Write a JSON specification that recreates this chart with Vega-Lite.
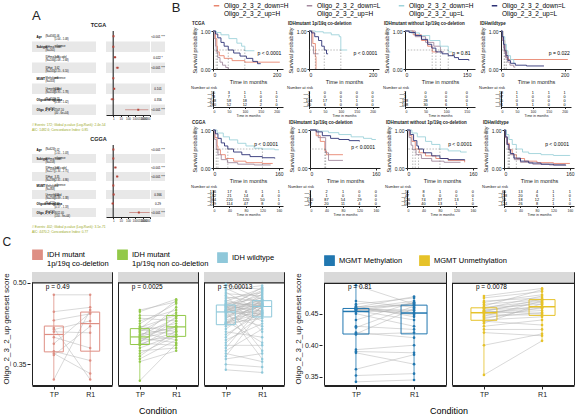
{
"$schema":"https://vega.github.io/schema/vega-lite/v6.json",
"padding":{"left":2,"top":2,"right":2,"bottom":1},
"config":{"font":"Liberation Sans","view":{"stroke":null},
 "axis":{"grid":false,"domainColor":"#222","tickColor":"#222","labelColor":"#222","titleColor":"#222","titleFontWeight":"normal","labelFontSize":5,"titleFontSize":5.5,"tickSize":2,"labelPadding":1,"titlePadding":2},
 "title":{"fontSize":4.5,"fontWeight":"bold","anchor":"start","offset":1,"color":"#222"}},
"resolve":{"scale":{"color":"independent"}},
"columns":1,"align":"none","spacing":2,
"datasets":{
"fa":[
{"c":"T","r":1,"var":"Age","lvl":"(N=656)","est":["1.06","(1.04 - 1.08)"],"hr":1.06,"lo":1.04,"hi":1.08,"pv":"<0.001 ***","sh":0},
{"c":"T","r":2,"var":"Subtype","lvl":["IDHmut-codel","(N=165)"],"est":"reference","hr":1,"pv":"","sh":1},
{"c":"T","r":3,"var":"","lvl":["IDHmut-non-codel","(N=246)"],"est":["1.70","(1.08 - 2.68)"],"hr":1.7,"lo":1.08,"hi":2.68,"pv":"0.022 *","sh":0},
{"c":"T","r":4,"var":"","lvl":["IDHwt","(N=245)"],"est":["3.62","(2.15 - 6.10)"],"hr":3.62,"lo":2.15,"hi":6.1,"pv":"<0.001 ***","sh":1},
{"c":"T","r":5,"var":"MGMT","lvl":["Methylated","(N=503)"],"est":"reference","hr":1,"pv":"","sh":0},
{"c":"T","r":6,"var":"","lvl":["Unmethylated","(N=153)"],"est":["1.30","(0.95 - 1.78)"],"hr":1.3,"lo":0.95,"hi":1.78,"pv":"0.101","sh":1},
{"c":"T","r":7,"var":"Oligodendroglioma","lvl":"(N=656)","est":["0.73","(0.38 - 1.42)"],"hr":0.73,"lo":0.38,"hi":1.42,"pv":"0.356","sh":0},
{"c":"T","r":8,"var":"Oligo_2_3_2","lvl":"(N=656)","est":["2507.10","(40 - 6e+04)"],"hr":2507,"lo":40,"hi":60000,"pv":"<0.001 ***","sh":1},
{"c":"C","r":1,"var":"Age","lvl":"(N=624)","est":["1.02","(1.01 - 1.03)"],"hr":1.02,"lo":1.01,"hi":1.03,"pv":"<0.001 ***","sh":0},
{"c":"C","r":2,"var":"Subtype","lvl":["IDHmut-codel","(N=158)"],"est":"reference","hr":1,"pv":"","sh":1},
{"c":"C","r":3,"var":"","lvl":["IDHmut-non-codel","(N=227)"],"est":["1.92","(1.34 - 2.75)"],"hr":1.92,"lo":1.34,"hi":2.75,"pv":"<0.001 ***","sh":0},
{"c":"C","r":4,"var":"","lvl":["IDHwt","(N=239)"],"est":["3.35","(2.31 - 4.86)"],"hr":3.35,"lo":2.31,"hi":4.86,"pv":"<0.001 ***","sh":1},
{"c":"C","r":5,"var":"MGMT","lvl":["Methylated","(N=368)"],"est":"reference","hr":1,"pv":"","sh":0},
{"c":"C","r":6,"var":"","lvl":["Unmethylated","(N=256)"],"est":["1.11","(0.89 - 1.38)"],"hr":1.11,"lo":0.89,"hi":1.38,"pv":"0.366","sh":1},
{"c":"C","r":7,"var":"Oligodendroglioma","lvl":"(N=624)","est":["0.82","(0.57 - 1.18)"],"hr":0.82,"lo":0.57,"hi":1.18,"pv":"0.29","sh":0},
{"c":"C","r":8,"var":"Oligo_2_3_2","lvl":"(N=624)","est":["3012.40","(150 - 9e+04)"],"hr":3012,"lo":150,"hi":90000,"pv":"<0.001 ***","sh":1}
],
"km":[
{"p":"t1","s":"a","t":0,"v":1},{"p":"t1","s":"a","t":8,"v":0.8},{"p":"t1","s":"a","t":12,"v":0.6},{"p":"t1","s":"a","t":14,"v":0.45},{"p":"t1","s":"a","t":20,"v":0.35},{"p":"t1","s":"a","t":35,"v":0.28},{"p":"t1","s":"a","t":60,"v":0.22},{"p":"t1","s":"a","t":100,"v":0.18},{"p":"t1","s":"a","t":210,"v":0.18},
{"p":"t1","s":"b","t":0,"v":1},{"p":"t1","s":"b","t":4,"v":0.8},{"p":"t1","s":"b","t":8,"v":0.6},{"p":"t1","s":"b","t":10,"v":0.45},{"p":"t1","s":"b","t":15,"v":0.3},{"p":"t1","s":"b","t":22,"v":0.18},{"p":"t1","s":"b","t":30,"v":0.1},{"p":"t1","s":"b","t":40,"v":0.04},{"p":"t1","s":"b","t":48,"v":0},
{"p":"t1","s":"c","t":0,"v":1},{"p":"t1","s":"c","t":10,"v":0.96},{"p":"t1","s":"c","t":25,"v":0.9},{"p":"t1","s":"c","t":50,"v":0.8},{"p":"t1","s":"c","t":75,"v":0.68},{"p":"t1","s":"c","t":90,"v":0.6},{"p":"t1","s":"c","t":100,"v":0.48},{"p":"t1","s":"c","t":130,"v":0.48},
{"p":"t1","s":"d","t":0,"v":1},{"p":"t1","s":"d","t":8,"v":0.92},{"p":"t1","s":"d","t":15,"v":0.82},{"p":"t1","s":"d","t":25,"v":0.7},{"p":"t1","s":"d","t":35,"v":0.6},{"p":"t1","s":"d","t":48,"v":0.5},{"p":"t1","s":"d","t":65,"v":0.42},{"p":"t1","s":"d","t":85,"v":0.34},{"p":"t1","s":"d","t":105,"v":0.28},{"p":"t1","s":"d","t":125,"v":0.2},{"p":"t1","s":"d","t":140,"v":0.14},{"p":"t1","s":"d","t":150,"v":0.14},
{"p":"t2","s":"a","t":0,"v":1},{"p":"t2","s":"a","t":12,"v":0.67},{"p":"t2","s":"a","t":20,"v":0.33},{"p":"t2","s":"a","t":22,"v":0},
{"p":"t2","s":"b","t":0,"v":1},{"p":"t2","s":"b","t":8,"v":0.6},{"p":"t2","s":"b","t":14,"v":0.4},{"p":"t2","s":"b","t":30,"v":0.4},
{"p":"t2","s":"c","t":0,"v":1},{"p":"t2","s":"c","t":20,"v":0.98},{"p":"t2","s":"c","t":45,"v":0.95},{"p":"t2","s":"c","t":70,"v":0.9},{"p":"t2","s":"c","t":95,"v":0.85},{"p":"t2","s":"c","t":100,"v":0.5},{"p":"t2","s":"c","t":120,"v":0.5},
{"p":"t2","s":"d","t":0,"v":1},{"p":"t2","s":"d","t":8,"v":0.95},{"p":"t2","s":"d","t":18,"v":0.85},{"p":"t2","s":"d","t":30,"v":0.75},{"p":"t2","s":"d","t":40,"v":0.6},{"p":"t2","s":"d","t":48,"v":0.5},{"p":"t2","s":"d","t":55,"v":0.4},{"p":"t2","s":"d","t":60,"v":0.4},
{"p":"t3","s":"a","t":0,"v":1},{"p":"t3","s":"a","t":20,"v":0.9},{"p":"t3","s":"a","t":40,"v":0.75},{"p":"t3","s":"a","t":55,"v":0.6},{"p":"t3","s":"a","t":66,"v":0.45},{"p":"t3","s":"a","t":80,"v":0.45},
{"p":"t3","s":"b","t":0,"v":1},{"p":"t3","s":"b","t":25,"v":0.85},{"p":"t3","s":"b","t":50,"v":0.7},{"p":"t3","s":"b","t":70,"v":0.6},{"p":"t3","s":"b","t":86,"v":0.45},{"p":"t3","s":"b","t":95,"v":0.45},
{"p":"t3","s":"c","t":0,"v":1},{"p":"t3","s":"c","t":15,"v":0.95},{"p":"t3","s":"c","t":35,"v":0.88},{"p":"t3","s":"c","t":60,"v":0.75},{"p":"t3","s":"c","t":85,"v":0.6},{"p":"t3","s":"c","t":105,"v":0.45},{"p":"t3","s":"c","t":115,"v":0.45},
{"p":"t3","s":"d","t":0,"v":1},{"p":"t3","s":"d","t":10,"v":0.96},{"p":"t3","s":"d","t":25,"v":0.88},{"p":"t3","s":"d","t":40,"v":0.78},{"p":"t3","s":"d","t":55,"v":0.65},{"p":"t3","s":"d","t":65,"v":0.55},{"p":"t3","s":"d","t":75,"v":0.45},{"p":"t3","s":"d","t":90,"v":0.4},{"p":"t3","s":"d","t":105,"v":0.35},{"p":"t3","s":"d","t":120,"v":0.3},{"p":"t3","s":"d","t":130,"v":0.25},{"p":"t3","s":"d","t":155,"v":0.22},
{"p":"t4","s":"a","t":0,"v":1},{"p":"t4","s":"a","t":6,"v":0.75},{"p":"t4","s":"a","t":12,"v":0.45},{"p":"t4","s":"a","t":18,"v":0.3},{"p":"t4","s":"a","t":22,"v":0.25},{"p":"t4","s":"a","t":210,"v":0.25},
{"p":"t4","s":"b","t":0,"v":1},{"p":"t4","s":"b","t":4,"v":0.75},{"p":"t4","s":"b","t":8,"v":0.55},{"p":"t4","s":"b","t":10,"v":0.45},{"p":"t4","s":"b","t":14,"v":0.3},{"p":"t4","s":"b","t":20,"v":0.18},{"p":"t4","s":"b","t":28,"v":0.1},{"p":"t4","s":"b","t":40,"v":0.05},{"p":"t4","s":"b","t":45,"v":0.05},
{"p":"t4","s":"c","t":0,"v":1},{"p":"t4","s":"c","t":6,"v":0.85},{"p":"t4","s":"c","t":12,"v":0.65},{"p":"t4","s":"c","t":17,"v":0.48},{"p":"t4","s":"c","t":22,"v":0.35},{"p":"t4","s":"c","t":30,"v":0.25},{"p":"t4","s":"c","t":40,"v":0.15},{"p":"t4","s":"c","t":45,"v":0.15},
{"p":"t4","s":"d","t":0,"v":1},{"p":"t4","s":"d","t":4,"v":0.85},{"p":"t4","s":"d","t":8,"v":0.65},{"p":"t4","s":"d","t":12,"v":0.48},{"p":"t4","s":"d","t":16,"v":0.35},{"p":"t4","s":"d","t":22,"v":0.22},{"p":"t4","s":"d","t":30,"v":0.15},{"p":"t4","s":"d","t":45,"v":0.1},{"p":"t4","s":"d","t":80,"v":0.08},{"p":"t4","s":"d","t":135,"v":0.08},
{"p":"c1","s":"a","t":0,"v":1},{"p":"c1","s":"a","t":5,"v":0.8},{"p":"c1","s":"a","t":10,"v":0.58},{"p":"c1","s":"a","t":12,"v":0.48},{"p":"c1","s":"a","t":18,"v":0.35},{"p":"c1","s":"a","t":30,"v":0.25},{"p":"c1","s":"a","t":50,"v":0.18},{"p":"c1","s":"a","t":80,"v":0.14},{"p":"c1","s":"a","t":120,"v":0.12},{"p":"c1","s":"a","t":145,"v":0.12},
{"p":"c1","s":"b","t":0,"v":1},{"p":"c1","s":"b","t":4,"v":0.75},{"p":"c1","s":"b","t":8,"v":0.48},{"p":"c1","s":"b","t":12,"v":0.35},{"p":"c1","s":"b","t":20,"v":0.22},{"p":"c1","s":"b","t":35,"v":0.14},{"p":"c1","s":"b","t":60,"v":0.1},{"p":"c1","s":"b","t":100,"v":0.08},{"p":"c1","s":"b","t":140,"v":0.08},
{"p":"c1","s":"c","t":0,"v":1},{"p":"c1","s":"c","t":10,"v":0.92},{"p":"c1","s":"c","t":25,"v":0.82},{"p":"c1","s":"c","t":40,"v":0.74},{"p":"c1","s":"c","t":60,"v":0.65},{"p":"c1","s":"c","t":80,"v":0.58},{"p":"c1","s":"c","t":100,"v":0.52},{"p":"c1","s":"c","t":120,"v":0.5},{"p":"c1","s":"c","t":150,"v":0.48},{"p":"c1","s":"c","t":160,"v":0.48},
{"p":"c1","s":"d","t":0,"v":1},{"p":"c1","s":"d","t":6,"v":0.9},{"p":"c1","s":"d","t":12,"v":0.78},{"p":"c1","s":"d","t":20,"v":0.66},{"p":"c1","s":"d","t":28,"v":0.58},{"p":"c1","s":"d","t":36,"v":0.5},{"p":"c1","s":"d","t":50,"v":0.42},{"p":"c1","s":"d","t":70,"v":0.35},{"p":"c1","s":"d","t":90,"v":0.3},{"p":"c1","s":"d","t":120,"v":0.27},{"p":"c1","s":"d","t":150,"v":0.25},
{"p":"c2","s":"a","t":0,"v":1},{"p":"c2","s":"a","t":15,"v":0.85},{"p":"c2","s":"a","t":25,"v":0.7},{"p":"c2","s":"a","t":36,"v":0.45},{"p":"c2","s":"a","t":40,"v":0.35},{"p":"c2","s":"a","t":80,"v":0.35},
{"p":"c2","s":"b","t":0,"v":1},{"p":"c2","s":"b","t":20,"v":0.8},{"p":"c2","s":"b","t":38,"v":0.4},{"p":"c2","s":"b","t":45,"v":0.2},{"p":"c2","s":"b","t":80,"v":0.2},
{"p":"c2","s":"c","t":0,"v":1},{"p":"c2","s":"c","t":20,"v":0.97},{"p":"c2","s":"c","t":45,"v":0.93},{"p":"c2","s":"c","t":70,"v":0.88},{"p":"c2","s":"c","t":100,"v":0.82},{"p":"c2","s":"c","t":130,"v":0.78},{"p":"c2","s":"c","t":150,"v":0.75},{"p":"c2","s":"c","t":160,"v":0.75},
{"p":"c2","s":"d","t":0,"v":1},{"p":"c2","s":"d","t":15,"v":0.95},{"p":"c2","s":"d","t":30,"v":0.85},{"p":"c2","s":"d","t":50,"v":0.78},{"p":"c2","s":"d","t":70,"v":0.75},{"p":"c2","s":"d","t":95,"v":0.72},{"p":"c2","s":"d","t":120,"v":0.7},
{"p":"c3","s":"a","t":0,"v":1},{"p":"c3","s":"a","t":6,"v":0.85},{"p":"c3","s":"a","t":12,"v":0.7},{"p":"c3","s":"a","t":20,"v":0.5},{"p":"c3","s":"a","t":30,"v":0.4},{"p":"c3","s":"a","t":45,"v":0.32},{"p":"c3","s":"a","t":70,"v":0.25},{"p":"c3","s":"a","t":100,"v":0.2},{"p":"c3","s":"a","t":140,"v":0.15},
{"p":"c3","s":"b","t":0,"v":1},{"p":"c3","s":"b","t":5,"v":0.8},{"p":"c3","s":"b","t":10,"v":0.6},{"p":"c3","s":"b","t":14,"v":0.48},{"p":"c3","s":"b","t":22,"v":0.35},{"p":"c3","s":"b","t":35,"v":0.25},{"p":"c3","s":"b","t":60,"v":0.18},{"p":"c3","s":"b","t":90,"v":0.15},{"p":"c3","s":"b","t":130,"v":0.15},
{"p":"c3","s":"c","t":0,"v":1},{"p":"c3","s":"c","t":12,"v":0.92},{"p":"c3","s":"c","t":25,"v":0.82},{"p":"c3","s":"c","t":45,"v":0.7},{"p":"c3","s":"c","t":60,"v":0.62},{"p":"c3","s":"c","t":80,"v":0.5},{"p":"c3","s":"c","t":100,"v":0.45},{"p":"c3","s":"c","t":130,"v":0.42},{"p":"c3","s":"c","t":145,"v":0.42},
{"p":"c3","s":"d","t":0,"v":1},{"p":"c3","s":"d","t":8,"v":0.88},{"p":"c3","s":"d","t":16,"v":0.72},{"p":"c3","s":"d","t":24,"v":0.58},{"p":"c3","s":"d","t":28,"v":0.5},{"p":"c3","s":"d","t":40,"v":0.4},{"p":"c3","s":"d","t":60,"v":0.32},{"p":"c3","s":"d","t":80,"v":0.25},{"p":"c3","s":"d","t":100,"v":0.22},{"p":"c3","s":"d","t":140,"v":0.2},
{"p":"c4","s":"a","t":0,"v":1},{"p":"c4","s":"a","t":4,"v":0.8},{"p":"c4","s":"a","t":8,"v":0.65},{"p":"c4","s":"a","t":13,"v":0.48},{"p":"c4","s":"a","t":20,"v":0.35},{"p":"c4","s":"a","t":30,"v":0.25},{"p":"c4","s":"a","t":50,"v":0.18},{"p":"c4","s":"a","t":80,"v":0.14},{"p":"c4","s":"a","t":120,"v":0.12},{"p":"c4","s":"a","t":160,"v":0.12},
{"p":"c4","s":"b","t":0,"v":1},{"p":"c4","s":"b","t":3,"v":0.8},{"p":"c4","s":"b","t":6,"v":0.62},{"p":"c4","s":"b","t":10,"v":0.48},{"p":"c4","s":"b","t":15,"v":0.35},{"p":"c4","s":"b","t":25,"v":0.22},{"p":"c4","s":"b","t":40,"v":0.15},{"p":"c4","s":"b","t":70,"v":0.1},{"p":"c4","s":"b","t":110,"v":0.08},{"p":"c4","s":"b","t":150,"v":0.08},
{"p":"c4","s":"c","t":0,"v":1},{"p":"c4","s":"c","t":6,"v":0.88},{"p":"c4","s":"c","t":12,"v":0.75},{"p":"c4","s":"c","t":20,"v":0.62},{"p":"c4","s":"c","t":30,"v":0.5},{"p":"c4","s":"c","t":45,"v":0.42},{"p":"c4","s":"c","t":60,"v":0.38},{"p":"c4","s":"c","t":90,"v":0.35},{"p":"c4","s":"c","t":120,"v":0.33},{"p":"c4","s":"c","t":160,"v":0.32},
{"p":"c4","s":"d","t":0,"v":1},{"p":"c4","s":"d","t":4,"v":0.82},{"p":"c4","s":"d","t":8,"v":0.62},{"p":"c4","s":"d","t":12,"v":0.48},{"p":"c4","s":"d","t":16,"v":0.38},{"p":"c4","s":"d","t":24,"v":0.26},{"p":"c4","s":"d","t":40,"v":0.18},{"p":"c4","s":"d","t":60,"v":0.13},{"p":"c4","s":"d","t":90,"v":0.1},{"p":"c4","s":"d","t":120,"v":0.08},{"p":"c4","s":"d","t":150,"v":0.07}
],
"risk":[
{"p":"t1","s":"a","t":0,"n":55},{"p":"t1","s":"a","t":50,"n":3},{"p":"t1","s":"a","t":100,"n":1},{"p":"t1","s":"a","t":150,"n":1},{"p":"t1","s":"a","t":200,"n":1},
{"p":"t1","s":"b","t":0,"n":73},{"p":"t1","s":"b","t":50,"n":7},{"p":"t1","s":"b","t":100,"n":1},{"p":"t1","s":"b","t":150,"n":0},{"p":"t1","s":"b","t":200,"n":0},
{"p":"t1","s":"c","t":0,"n":248},{"p":"t1","s":"c","t":50,"n":58},{"p":"t1","s":"c","t":100,"n":18},{"p":"t1","s":"c","t":150,"n":4},{"p":"t1","s":"c","t":200,"n":1},
{"p":"t1","s":"d","t":0,"n":280},{"p":"t1","s":"d","t":50,"n":52},{"p":"t1","s":"d","t":100,"n":12},{"p":"t1","s":"d","t":150,"n":2},{"p":"t1","s":"d","t":200,"n":0},
{"p":"t2","s":"a","t":0,"n":3},{"p":"t2","s":"a","t":50,"n":0},{"p":"t2","s":"a","t":100,"n":0},{"p":"t2","s":"a","t":150,"n":0},{"p":"t2","s":"a","t":200,"n":0},
{"p":"t2","s":"b","t":0,"n":5},{"p":"t2","s":"b","t":50,"n":0},{"p":"t2","s":"b","t":100,"n":0},{"p":"t2","s":"b","t":150,"n":0},{"p":"t2","s":"b","t":200,"n":0},
{"p":"t2","s":"c","t":0,"n":104},{"p":"t2","s":"c","t":50,"n":17},{"p":"t2","s":"c","t":100,"n":5},{"p":"t2","s":"c","t":150,"n":1},{"p":"t2","s":"c","t":200,"n":0},
{"p":"t2","s":"d","t":0,"n":40},{"p":"t2","s":"d","t":50,"n":6},{"p":"t2","s":"d","t":100,"n":0},{"p":"t2","s":"d","t":150,"n":0},{"p":"t2","s":"d","t":200,"n":0},
{"p":"t3","s":"a","t":0,"n":2},{"p":"t3","s":"a","t":50,"n":0},{"p":"t3","s":"a","t":100,"n":0},{"p":"t3","s":"a","t":150,"n":0},
{"p":"t3","s":"b","t":0,"n":3},{"p":"t3","s":"b","t":50,"n":0},{"p":"t3","s":"b","t":100,"n":0},{"p":"t3","s":"b","t":150,"n":0},
{"p":"t3","s":"c","t":0,"n":118},{"p":"t3","s":"c","t":50,"n":28},{"p":"t3","s":"c","t":100,"n":6},{"p":"t3","s":"c","t":150,"n":0},
{"p":"t3","s":"d","t":0,"n":108},{"p":"t3","s":"d","t":50,"n":30},{"p":"t3","s":"d","t":100,"n":6},{"p":"t3","s":"d","t":150,"n":1},
{"p":"t4","s":"a","t":0,"n":18},{"p":"t4","s":"a","t":50,"n":1},{"p":"t4","s":"a","t":100,"n":1},{"p":"t4","s":"a","t":150,"n":1},{"p":"t4","s":"a","t":200,"n":1},
{"p":"t4","s":"b","t":0,"n":97},{"p":"t4","s":"b","t":50,"n":1},{"p":"t4","s":"b","t":100,"n":0},{"p":"t4","s":"b","t":150,"n":0},{"p":"t4","s":"b","t":200,"n":0},
{"p":"t4","s":"c","t":0,"n":15},{"p":"t4","s":"c","t":50,"n":0},{"p":"t4","s":"c","t":100,"n":0},{"p":"t4","s":"c","t":150,"n":0},{"p":"t4","s":"c","t":200,"n":0},
{"p":"t4","s":"d","t":0,"n":91},{"p":"t4","s":"d","t":50,"n":3},{"p":"t4","s":"d","t":100,"n":1},{"p":"t4","s":"d","t":150,"n":0},{"p":"t4","s":"d","t":200,"n":0},
{"p":"c1","s":"a","t":0,"n":136},{"p":"c1","s":"a","t":40,"n":17},{"p":"c1","s":"a","t":80,"n":6},{"p":"c1","s":"a","t":120,"n":1},{"p":"c1","s":"a","t":160,"n":1},
{"p":"c1","s":"b","t":0,"n":182},{"p":"c1","s":"b","t":40,"n":21},{"p":"c1","s":"b","t":80,"n":14},{"p":"c1","s":"b","t":120,"n":4},{"p":"c1","s":"b","t":160,"n":0},
{"p":"c1","s":"c","t":0,"n":364},{"p":"c1","s":"c","t":40,"n":220},{"p":"c1","s":"c","t":80,"n":120},{"p":"c1","s":"c","t":120,"n":50},{"p":"c1","s":"c","t":160,"n":1},
{"p":"c1","s":"d","t":0,"n":219},{"p":"c1","s":"d","t":40,"n":114},{"p":"c1","s":"d","t":80,"n":47},{"p":"c1","s":"d","t":120,"n":8},{"p":"c1","s":"d","t":160,"n":0},
{"p":"c2","s":"a","t":0,"n":7},{"p":"c2","s":"a","t":40,"n":2},{"p":"c2","s":"a","t":80,"n":1},{"p":"c2","s":"a","t":120,"n":0},{"p":"c2","s":"a","t":160,"n":0},
{"p":"c2","s":"b","t":0,"n":5},{"p":"c2","s":"b","t":40,"n":1},{"p":"c2","s":"b","t":80,"n":0},{"p":"c2","s":"b","t":120,"n":0},{"p":"c2","s":"b","t":160,"n":0},
{"p":"c2","s":"c","t":0,"n":150},{"p":"c2","s":"c","t":40,"n":87},{"p":"c2","s":"c","t":80,"n":54},{"p":"c2","s":"c","t":120,"n":29},{"p":"c2","s":"c","t":160,"n":0},
{"p":"c2","s":"d","t":0,"n":27},{"p":"c2","s":"d","t":40,"n":20},{"p":"c2","s":"d","t":80,"n":11},{"p":"c2","s":"d","t":120,"n":4},{"p":"c2","s":"d","t":160,"n":0},
{"p":"c3","s":"a","t":0,"n":51},{"p":"c3","s":"a","t":40,"n":8},{"p":"c3","s":"a","t":80,"n":1},{"p":"c3","s":"a","t":120,"n":0},{"p":"c3","s":"a","t":160,"n":0},
{"p":"c3","s":"b","t":0,"n":47},{"p":"c3","s":"b","t":40,"n":6},{"p":"c3","s":"b","t":80,"n":0},{"p":"c3","s":"b","t":120,"n":0},{"p":"c3","s":"b","t":160,"n":0},
{"p":"c3","s":"c","t":0,"n":126},{"p":"c3","s":"c","t":40,"n":74},{"p":"c3","s":"c","t":80,"n":37},{"p":"c3","s":"c","t":120,"n":13},{"p":"c3","s":"c","t":160,"n":1},
{"p":"c3","s":"d","t":0,"n":109},{"p":"c3","s":"d","t":40,"n":40},{"p":"c3","s":"d","t":80,"n":13},{"p":"c3","s":"d","t":120,"n":1},{"p":"c3","s":"d","t":160,"n":0},
{"p":"c4","s":"a","t":0,"n":65},{"p":"c4","s":"a","t":40,"n":13},{"p":"c4","s":"a","t":80,"n":4},{"p":"c4","s":"a","t":120,"n":1},{"p":"c4","s":"a","t":160,"n":1},
{"p":"c4","s":"b","t":0,"n":118},{"p":"c4","s":"b","t":40,"n":20},{"p":"c4","s":"b","t":80,"n":6},{"p":"c4","s":"b","t":120,"n":1},{"p":"c4","s":"b","t":160,"n":0},
{"p":"c4","s":"c","t":0,"n":56},{"p":"c4","s":"c","t":40,"n":18},{"p":"c4","s":"c","t":80,"n":12},{"p":"c4","s":"c","t":120,"n":2},{"p":"c4","s":"c","t":160,"n":1},
{"p":"c4","s":"d","t":0,"n":124},{"p":"c4","s":"d","t":40,"n":26},{"p":"c4","s":"d","t":80,"n":8},{"p":"c4","s":"d","t":120,"n":1},{"p":"c4","s":"d","t":160,"n":0}
],
"med":[
{"p":"t1","m":14},{"p":"t1","m":10},{"p":"t1","m":100},{"p":"t1","m":48},
{"p":"t2","m":20},{"p":"t2","m":100},{"p":"t2","m":48},
{"p":"t3","m":66},{"p":"t3","m":86},{"p":"t3","m":105},{"p":"t3","m":75},
{"p":"t4","m":12},{"p":"t4","m":10},{"p":"t4","m":17},
{"p":"c1","m":12},{"p":"c1","m":8},{"p":"c1","m":120},{"p":"c1","m":36},
{"p":"c2","m":36},{"p":"c2","m":38},
{"p":"c3","m":20},{"p":"c3","m":14},{"p":"c3","m":80},{"p":"c3","m":28},
{"p":"c4","m":13},{"p":"c4","m":10},{"p":"c4","m":30},{"p":"c4","m":12}
],
"pv":[
{"p":"t1","txt":"p < 0.0001"},{"p":"t2","txt":"p < 0.0001"},{"p":"t3","txt":"p = 0.81"},{"p":"t4","txt":"p = 0.022"},
{"p":"c1","txt":"p < 0.0001"},{"p":"c2","txt":"p < 0.0001"},{"p":"c3","txt":"p < 0.0001"},{"p":"c4","txt":"p < 0.0001"}
],
"cl":[
{"g":"co","p":"p = 0.49"},{"g":"nc","p":"p = 0.0025"},{"g":"wt","p":"p = 0.00013"},
{"g":"co","i":1,"TP":0.478,"R1":0.478},{"g":"co","i":2,"TP":0.447,"R1":0.455},{"g":"co","i":3,"TP":0.431,"R1":0.443},{"g":"co","i":4,"TP":0.417,"R1":0.322},{"g":"co","i":5,"TP":0.414,"R1":0.43},{"g":"co","i":6,"TP":0.41,"R1":0.408},{"g":"co","i":7,"TP":0.4,"R1":0.38},{"g":"co","i":8,"TP":0.388,"R1":0.445},{"g":"co","i":9,"TP":0.374,"R1":0.357},{"g":"co","i":10,"TP":0.37,"R1":0.333},{"g":"co","i":11,"TP":0.367,"R1":0.42},{"g":"co","i":12,"TP":0.322,"R1":0.45},
{"g":"nc","i":1,"TP":0.45,"R1":0.465},{"g":"nc","i":2,"TP":0.447,"R1":0.47},{"g":"nc","i":3,"TP":0.44,"R1":0.44},{"g":"nc","i":4,"TP":0.435,"R1":0.43},{"g":"nc","i":5,"TP":0.43,"R1":0.45},{"g":"nc","i":6,"TP":0.425,"R1":0.462},{"g":"nc","i":7,"TP":0.42,"R1":0.41},{"g":"nc","i":8,"TP":0.418,"R1":0.44},{"g":"nc","i":9,"TP":0.415,"R1":0.468},{"g":"nc","i":10,"TP":0.414,"R1":0.405},{"g":"nc","i":11,"TP":0.412,"R1":0.425},{"g":"nc","i":12,"TP":0.41,"R1":0.445},{"g":"nc","i":13,"TP":0.408,"R1":0.395},{"g":"nc","i":14,"TP":0.405,"R1":0.418},{"g":"nc","i":15,"TP":0.403,"R1":0.435},{"g":"nc","i":16,"TP":0.401,"R1":0.42},{"g":"nc","i":17,"TP":0.4,"R1":0.455},{"g":"nc","i":18,"TP":0.398,"R1":0.39},{"g":"nc","i":19,"TP":0.396,"R1":0.415},{"g":"nc","i":20,"TP":0.394,"R1":0.4},{"g":"nc","i":21,"TP":0.392,"R1":0.43},{"g":"nc","i":22,"TP":0.39,"R1":0.438},{"g":"nc","i":23,"TP":0.389,"R1":0.385},{"g":"nc","i":24,"TP":0.387,"R1":0.41},{"g":"nc","i":25,"TP":0.385,"R1":0.42},{"g":"nc","i":26,"TP":0.38,"R1":0.405},{"g":"nc","i":27,"TP":0.375,"R1":0.38},{"g":"nc","i":28,"TP":0.37,"R1":0.402},{"g":"nc","i":29,"TP":0.365,"R1":0.412},{"g":"nc","i":30,"TP":0.36,"R1":0.395},{"g":"nc","i":31,"TP":0.355,"R1":0.375},{"g":"nc","i":32,"TP":0.32,"R1":0.388},
{"g":"wt","i":1,"TP":0.498,"R1":0.47},{"g":"wt","i":2,"TP":0.495,"R1":0.488},{"g":"wt","i":3,"TP":0.49,"R1":0.46},{"g":"wt","i":4,"TP":0.487,"R1":0.495},{"g":"wt","i":5,"TP":0.483,"R1":0.445},{"g":"wt","i":6,"TP":0.48,"R1":0.476},{"g":"wt","i":7,"TP":0.477,"R1":0.41},{"g":"wt","i":8,"TP":0.474,"R1":0.465},{"g":"wt","i":9,"TP":0.471,"R1":0.482},{"g":"wt","i":10,"TP":0.468,"R1":0.452},
{"g":"wt","i":11,"TP":0.466,"R1":0.49},{"g":"wt","i":12,"TP":0.464,"R1":0.458},{"g":"wt","i":13,"TP":0.462,"R1":0.44},{"g":"wt","i":14,"TP":0.461,"R1":0.472},{"g":"wt","i":15,"TP":0.46,"R1":0.375},{"g":"wt","i":16,"TP":0.459,"R1":0.486},{"g":"wt","i":17,"TP":0.458,"R1":0.462},{"g":"wt","i":18,"TP":0.457,"R1":0.448},{"g":"wt","i":19,"TP":0.456,"R1":0.478},{"g":"wt","i":20,"TP":0.455,"R1":0.43},
{"g":"wt","i":21,"TP":0.454,"R1":0.467},{"g":"wt","i":22,"TP":0.453,"R1":0.459},{"g":"wt","i":23,"TP":0.452,"R1":0.492},{"g":"wt","i":24,"TP":0.451,"R1":0.442},{"g":"wt","i":25,"TP":0.45,"R1":0.464},{"g":"wt","i":26,"TP":0.449,"R1":0.36},{"g":"wt","i":27,"TP":0.449,"R1":0.469},{"g":"wt","i":28,"TP":0.448,"R1":0.456},{"g":"wt","i":29,"TP":0.448,"R1":0.484},{"g":"wt","i":30,"TP":0.447,"R1":0.438},
{"g":"wt","i":31,"TP":0.446,"R1":0.461},{"g":"wt","i":32,"TP":0.444,"R1":0.474},{"g":"wt","i":33,"TP":0.442,"R1":0.449},{"g":"wt","i":34,"TP":0.44,"R1":0.42},{"g":"wt","i":35,"TP":0.438,"R1":0.466},{"g":"wt","i":36,"TP":0.436,"R1":0.458},{"g":"wt","i":37,"TP":0.434,"R1":0.48},{"g":"wt","i":38,"TP":0.432,"R1":0.447},{"g":"wt","i":39,"TP":0.43,"R1":0.39},{"g":"wt","i":40,"TP":0.428,"R1":0.463},
{"g":"wt","i":41,"TP":0.427,"R1":0.444},{"g":"wt","i":42,"TP":0.426,"R1":0.46},{"g":"wt","i":43,"TP":0.425,"R1":0.468},{"g":"wt","i":44,"TP":0.425,"R1":0.435},{"g":"wt","i":45,"TP":0.424,"R1":0.454},{"g":"wt","i":46,"TP":0.42,"R1":0.443},{"g":"wt","i":47,"TP":0.415,"R1":0.462},{"g":"wt","i":48,"TP":0.41,"R1":0.4},{"g":"wt","i":49,"TP":0.405,"R1":0.446},{"g":"wt","i":50,"TP":0.4,"R1":0.457},
{"g":"wt","i":51,"TP":0.395,"R1":0.425},{"g":"wt","i":52,"TP":0.39,"R1":0.441},{"g":"wt","i":53,"TP":0.385,"R1":0.385},{"g":"wt","i":54,"TP":0.38,"R1":0.459},{"g":"wt","i":55,"TP":0.375,"R1":0.415},{"g":"wt","i":56,"TP":0.37,"R1":0.355},{"g":"wt","i":57,"TP":0.365,"R1":0.45},{"g":"wt","i":58,"TP":0.36,"R1":0.37},{"g":"wt","i":59,"TP":0.35,"R1":0.345},{"g":"wt","i":60,"TP":0.34,"R1":0.335}
],
"cr":[
{"g":"me","p":"p = 0.81"},{"g":"un","p":"p = 0.0078"},
{"g":"me","i":1,"TP":0.495,"R1":0.465},{"g":"me","i":2,"TP":0.47,"R1":0.46},{"g":"me","i":3,"TP":0.465,"R1":0.475},{"g":"me","i":4,"TP":0.462,"R1":0.445},{"g":"me","i":5,"TP":0.461,"R1":0.463},{"g":"me","i":6,"TP":0.46,"R1":0.477},{"g":"me","i":7,"TP":0.459,"R1":0.452},{"g":"me","i":8,"TP":0.458,"R1":0.47},{"g":"me","i":9,"TP":0.458,"R1":0.448},{"g":"me","i":10,"TP":0.457,"R1":0.45},{"g":"me","i":11,"TP":0.457,"R1":0.456},{"g":"me","i":12,"TP":0.456,"R1":0.467},{"g":"me","i":13,"TP":0.455,"R1":0.44},{"g":"me","i":14,"TP":0.454,"R1":0.466},
{"g":"me","i":15,"TP":0.453,"R1":0.455},{"g":"me","i":16,"TP":0.45,"R1":0.43},{"g":"me","i":17,"TP":0.44,"R1":0.468},{"g":"me","i":18,"TP":0.43,"R1":0.425},{"g":"me","i":19,"TP":0.428,"R1":0.462},{"g":"me","i":20,"TP":0.42,"R1":0.412},{"g":"me","i":21,"TP":0.418,"R1":0.458},{"g":"me","i":22,"TP":0.417,"R1":0.42},{"g":"me","i":23,"TP":0.393,"R1":0.4},{"g":"me","i":24,"TP":0.39,"R1":0.388},{"g":"me","i":25,"TP":0.388,"R1":0.37},{"g":"me","i":26,"TP":0.362,"R1":0.385},{"g":"me","i":27,"TP":0.352,"R1":0.355},{"g":"me","i":28,"TP":0.342,"R1":0.345},
{"g":"un","i":1,"TP":0.478,"R1":0.49},{"g":"un","i":2,"TP":0.475,"R1":0.485},{"g":"un","i":3,"TP":0.47,"R1":0.475},{"g":"un","i":4,"TP":0.468,"R1":0.48},{"g":"un","i":5,"TP":0.465,"R1":0.472},{"g":"un","i":6,"TP":0.462,"R1":0.488},{"g":"un","i":7,"TP":0.46,"R1":0.47},{"g":"un","i":8,"TP":0.459,"R1":0.465},{"g":"un","i":9,"TP":0.458,"R1":0.478},{"g":"un","i":10,"TP":0.456,"R1":0.46},{"g":"un","i":11,"TP":0.455,"R1":0.468},{"g":"un","i":12,"TP":0.454,"R1":0.45},{"g":"un","i":13,"TP":0.453,"R1":0.473},{"g":"un","i":14,"TP":0.452,"R1":0.458},
{"g":"un","i":15,"TP":0.451,"R1":0.462},{"g":"un","i":16,"TP":0.45,"R1":0.455},{"g":"un","i":17,"TP":0.448,"R1":0.448},{"g":"un","i":18,"TP":0.446,"R1":0.47},{"g":"un","i":19,"TP":0.444,"R1":0.452},{"g":"un","i":20,"TP":0.442,"R1":0.46},{"g":"un","i":21,"TP":0.44,"R1":0.445},{"g":"un","i":22,"TP":0.438,"R1":0.432},{"g":"un","i":23,"TP":0.435,"R1":0.466},{"g":"un","i":24,"TP":0.43,"R1":0.44},{"g":"un","i":25,"TP":0.425,"R1":0.425},{"g":"un","i":26,"TP":0.42,"R1":0.415},{"g":"un","i":27,"TP":0.4,"R1":0.418},{"g":"un","i":28,"TP":0.353,"R1":0.407}
]
},
"concat":[
{"concat":[
 {"title":{"text":"A","anchor":"start","fontSize":13,"fontWeight":"normal","offset":0},"spacing":5,"vconcat":[
  {"title":{"text":"TCGA","fontSize":5.5,"fontWeight":"bold","anchor":"middle","offset":2},"spacing":0,"hconcat":[
   {"width":64,"height":84,"data":{"name":"fa"},"transform":[{"filter":"datum.c=='T'"}],
    "title":{"text":["# Events: 172; Global p-value (Log-Rank): 2.4e-54","AIC: 1482.6; Concordance Index: 0.85"],"orient":"bottom","anchor":"start","fontSize":3.3,"fontWeight":"normal","color":"#9AA81E","offset":8},
    "layer":[
     {"transform":[{"filter":"datum.sh==1"}],"mark":{"type":"rect","color":"#e8e8e8"},"encoding":{"y":{"field":"r","type":"ordinal","axis":null,"scale":{"domain":[1,2,3,4,5,6,7,8]}}}},
     {"transform":[{"fold":["var","lvl","est"],"as":["col","txt"]},{"filter":"datum.col=='var'"}],"mark":{"type":"text","align":"left","fontSize":2.8,"fontWeight":"bold"},"encoding":{"x":{"field":"col","type":"nominal","axis":null,"scale":{"domain":["var","lvl","est"],"range":[0,27,46]}},"y":{"field":"r","type":"ordinal","axis":null},"text":{"field":"txt"}}},
     {"transform":[{"fold":["var","lvl","est"],"as":["col","txt"]},{"filter":"datum.col!='var'"}],"mark":{"type":"text","align":"left","fontSize":2.6,"lineHeight":3},"encoding":{"x":{"field":"col","type":"nominal","axis":null,"scale":{"domain":["var","lvl","est"],"range":[0,27,46]}},"y":{"field":"r","type":"ordinal","axis":null},"text":{"field":"txt"}}}
    ]},
   {"width":44,"height":84,"data":{"name":"fa"},"transform":[{"filter":"datum.c=='T'"}],
    "layer":[
     {"transform":[{"filter":"datum.sh==1"}],"mark":{"type":"rect","color":"#e8e8e8"},"encoding":{"y":{"field":"r","type":"ordinal","axis":null,"scale":{"domain":[1,2,3,4,5,6,7,8]}}}},
     {"mark":{"type":"rule","color":"#555","strokeWidth":0.4},"encoding":{"x":{"datum":1,"type":"quantitative","scale":{"type":"log","domain":[0.2,100000]}}}},
     {"transform":[{"filter":"isValid(datum.lo)"}],"mark":{"type":"rule","color":"#B5453A","strokeWidth":0.5},"encoding":{"x":{"field":"lo","type":"quantitative","title":null,"scale":{"type":"log","domain":[0.2,100000]},"axis":{"values":[1,10,100,1000,10000,100000],"format":"d","labelFontSize":3,"tickSize":1.5,"labelOverlap":false}},"x2":{"field":"hi"},"y":{"field":"r","type":"ordinal","axis":null}}},
     {"transform":[{"filter":"isValid(datum.hr)"}],"mark":{"type":"square","filled":true,"size":4,"opacity":1,"color":"#B5453A"},"encoding":{"x":{"field":"hr","type":"quantitative","title":null},"y":{"field":"r","type":"ordinal","axis":null}}}
    ]},
   {"width":14,"height":84,"data":{"name":"fa"},"transform":[{"filter":"datum.c=='T'"}],
    "layer":[
     {"transform":[{"filter":"datum.sh==1"}],"mark":{"type":"rect","color":"#e8e8e8"},"encoding":{"y":{"field":"r","type":"ordinal","axis":null,"scale":{"domain":[1,2,3,4,5,6,7,8]}}}},
     {"mark":{"type":"text","fontSize":3},"encoding":{"y":{"field":"r","type":"ordinal","axis":null},"text":{"field":"pv"}}}
    ]}
  ]},
  {"title":{"text":"CGGA","fontSize":5.5,"fontWeight":"bold","anchor":"middle","offset":2},"spacing":0,"hconcat":[
   {"width":64,"height":72,"data":{"name":"fa"},"transform":[{"filter":"datum.c=='C'"}],
    "title":{"text":["# Events: 402; Global p-value (Log-Rank): 3.1e-71","AIC: 4470.2; Concordance Index: 0.77"],"orient":"bottom","anchor":"start","fontSize":3.3,"fontWeight":"normal","color":"#9AA81E","offset":8},
    "layer":[
     {"transform":[{"filter":"datum.sh==1"}],"mark":{"type":"rect","color":"#e8e8e8"},"encoding":{"y":{"field":"r","type":"ordinal","axis":null,"scale":{"domain":[1,2,3,4,5,6,7,8]}}}},
     {"transform":[{"fold":["var","lvl","est"],"as":["col","txt"]},{"filter":"datum.col=='var'"}],"mark":{"type":"text","align":"left","fontSize":2.8,"fontWeight":"bold"},"encoding":{"x":{"field":"col","type":"nominal","axis":null,"scale":{"domain":["var","lvl","est"],"range":[0,27,46]}},"y":{"field":"r","type":"ordinal","axis":null},"text":{"field":"txt"}}},
     {"transform":[{"fold":["var","lvl","est"],"as":["col","txt"]},{"filter":"datum.col!='var'"}],"mark":{"type":"text","align":"left","fontSize":2.6,"lineHeight":3},"encoding":{"x":{"field":"col","type":"nominal","axis":null,"scale":{"domain":["var","lvl","est"],"range":[0,27,46]}},"y":{"field":"r","type":"ordinal","axis":null},"text":{"field":"txt"}}}
    ]},
   {"width":44,"height":72,"data":{"name":"fa"},"transform":[{"filter":"datum.c=='C'"}],
    "layer":[
     {"transform":[{"filter":"datum.sh==1"}],"mark":{"type":"rect","color":"#e8e8e8"},"encoding":{"y":{"field":"r","type":"ordinal","axis":null,"scale":{"domain":[1,2,3,4,5,6,7,8]}}}},
     {"mark":{"type":"rule","color":"#555","strokeWidth":0.4},"encoding":{"x":{"datum":1,"type":"quantitative","scale":{"type":"log","domain":[0.2,100000]}}}},
     {"transform":[{"filter":"isValid(datum.lo)"}],"mark":{"type":"rule","color":"#B5453A","strokeWidth":0.5},"encoding":{"x":{"field":"lo","type":"quantitative","title":null,"scale":{"type":"log","domain":[0.2,100000]},"axis":{"values":[1,10,100,1000,10000,100000],"format":"d","labelFontSize":3,"tickSize":1.5,"labelOverlap":false}},"x2":{"field":"hi"},"y":{"field":"r","type":"ordinal","axis":null}}},
     {"transform":[{"filter":"isValid(datum.hr)"}],"mark":{"type":"square","filled":true,"size":4,"opacity":1,"color":"#B5453A"},"encoding":{"x":{"field":"hr","type":"quantitative","title":null},"y":{"field":"r","type":"ordinal","axis":null}}}
    ]},
   {"width":14,"height":72,"data":{"name":"fa"},"transform":[{"filter":"datum.c=='C'"}],
    "layer":[
     {"transform":[{"filter":"datum.sh==1"}],"mark":{"type":"rect","color":"#e8e8e8"},"encoding":{"y":{"field":"r","type":"ordinal","axis":null,"scale":{"domain":[1,2,3,4,5,6,7,8]}}}},
     {"mark":{"type":"text","fontSize":3},"encoding":{"y":{"field":"r","type":"ordinal","axis":null},"text":{"field":"pv"}}}
    ]}
  ]}
 ]},
 {"title":{"text":"B","orient":"left","angle":0,"anchor":"end","fontSize":13,"fontWeight":"normal","offset":2},"spacing":3,"vconcat":[
  {"spacing":4,"hconcat":[
   {"spacing":1,"vconcat":[
    {"width":70,"height":38,"title":{"text":"TCGA"},"layer":[
     {"data":{"name":"km"},"transform":[{"filter":"datum.p=='t1'"}],"mark":{"type":"line","interpolate":"step-after","strokeWidth":0.9},"encoding":{"x":{"field":"t","type":"quantitative","title":"Time in months","scale":{"domain":[0,220],"nice":false},"axis":{"values":[0,50,100,150,200]}},"y":{"field":"v","type":"quantitative","title":"Survival probability","scale":{"domain":[0,1]},"axis":{"values":[0,0.25,0.5,0.75,1],"format":".2f","minExtent":14,"maxExtent":14}},
      "color":{"field":"s","type":"nominal","scale":{"domain":["a","b","c","d"],"range":["#E8866F","#A48A9E","#9ED3DA","#2E3276"]},"legend":{"orient":"top","direction":"horizontal","title":null,"symbolType":"stroke","symbolSize":30,"symbolStrokeWidth":1.5,"labelFontSize":6.5,"columnPadding":14,"labelLimit":200,"offset":3,"labelExpr":"datum.label=='a'?['Oligo_2_3_2_down=H','Oligo_2_3_2_up=H']:datum.label=='b'?['Oligo_2_3_2_down=L','Oligo_2_3_2_up=H']:datum.label=='c'?['Oligo_2_3_2_down=H','Oligo_2_3_2_up=L']:['Oligo_2_3_2_down=L','Oligo_2_3_2_up=L']"}}}},
     {"data":{"name":"med"},"transform":[{"filter":"datum.p=='t1'"}],"mark":{"type":"rule","strokeDash":[1.5,1.5],"color":"#777","strokeWidth":0.5},"encoding":{"x":{"field":"m","type":"quantitative","title":"Time in months"},"y":{"datum":0,"type":"quantitative"},"y2":{"datum":0.5}}},
     {"data":{"name":"med"},"transform":[{"filter":"datum.p=='t1'"},{"aggregate":[{"op":"max","field":"m","as":"hm"}]}],"mark":{"type":"rule","strokeDash":[1.5,1.5],"color":"#777","strokeWidth":0.5},"encoding":{"x":{"field":"hm","type":"quantitative","title":"Time in months"},"x2":{"datum":0},"y":{"datum":0.5,"type":"quantitative"}}},
     {"data":{"name":"pv"},"transform":[{"filter":"datum.p=='t1'"}],"mark":{"type":"text","fontSize":5,"align":"left"},"encoding":{"x":{"datum":140,"type":"quantitative"},"y":{"datum":0.42,"type":"quantitative"},"text":{"field":"txt"}}}
    ]},
    {"width":70,"height":16,"data":{"name":"risk"},"transform":[{"filter":"datum.p=='t1'"}],"title":{"text":"Number at risk","fontSize":4,"fontWeight":"normal","offset":1},"mark":{"type":"text","fontSize":3.8},"encoding":{"x":{"field":"t","type":"quantitative","title":"Time in months","scale":{"domain":[0,220],"nice":false},"axis":{"values":[0,50,100,150,200],"labelFontSize":3.5,"titleFontSize":3.5,"tickSize":1.5,"titlePadding":0}},"y":{"field":"s","type":"nominal","title":null,"scale":{"domain":["a","b","c","d"]},"axis":{"labelExpr":"'—'","ticks":false,"labelFontSize":5,"minExtent":22,"maxExtent":22}},"text":{"field":"n"}}}
   ]},
   {"spacing":1,"vconcat":[
    {"width":70,"height":38,"title":{"text":"IDHmutant 1p/19q co-deletion"},"layer":[
     {"data":{"name":"km"},"transform":[{"filter":"datum.p=='t2'"}],"mark":{"type":"line","interpolate":"step-after","strokeWidth":0.9},"encoding":{"x":{"field":"t","type":"quantitative","title":"Time in months","scale":{"domain":[0,220],"nice":false},"axis":{"values":[0,50,100,150,200]}},"y":{"field":"v","type":"quantitative","title":"Survival probability","scale":{"domain":[0,1]},"axis":{"values":[0,0.25,0.5,0.75,1],"format":".2f","minExtent":14,"maxExtent":14}},"color":{"field":"s","type":"nominal","scale":{"domain":["a","b","c","d"],"range":["#E8866F","#A48A9E","#9ED3DA","#2E3276"]}}}},
     {"data":{"name":"med"},"transform":[{"filter":"datum.p=='t2'"}],"mark":{"type":"rule","strokeDash":[1.5,1.5],"color":"#777","strokeWidth":0.5},"encoding":{"x":{"field":"m","type":"quantitative","title":"Time in months"},"y":{"datum":0,"type":"quantitative"},"y2":{"datum":0.5}}},
     {"data":{"name":"med"},"transform":[{"filter":"datum.p=='t2'"},{"aggregate":[{"op":"max","field":"m","as":"hm"}]}],"mark":{"type":"rule","strokeDash":[1.5,1.5],"color":"#777","strokeWidth":0.5},"encoding":{"x":{"field":"hm","type":"quantitative","title":"Time in months"},"x2":{"datum":0},"y":{"datum":0.5,"type":"quantitative"}}},
     {"data":{"name":"pv"},"transform":[{"filter":"datum.p=='t2'"}],"mark":{"type":"text","fontSize":5,"align":"left"},"encoding":{"x":{"datum":140,"type":"quantitative"},"y":{"datum":0.42,"type":"quantitative"},"text":{"field":"txt"}}}
    ]},
    {"width":70,"height":16,"data":{"name":"risk"},"transform":[{"filter":"datum.p=='t2'"}],"title":{"text":"Number at risk","fontSize":4,"fontWeight":"normal","offset":1},"mark":{"type":"text","fontSize":3.8},"encoding":{"x":{"field":"t","type":"quantitative","title":"Time in months","scale":{"domain":[0,220],"nice":false},"axis":{"values":[0,50,100,150,200],"labelFontSize":3.5,"titleFontSize":3.5,"tickSize":1.5,"titlePadding":0}},"y":{"field":"s","type":"nominal","title":null,"scale":{"domain":["a","b","c","d"]},"axis":{"labelExpr":"'—'","ticks":false,"labelFontSize":5,"minExtent":22,"maxExtent":22}},"text":{"field":"n"}}}
   ]},
   {"spacing":1,"vconcat":[
    {"width":70,"height":38,"title":{"text":"IDHmutant without 1p/19q co-deletion"},"layer":[
     {"data":{"name":"km"},"transform":[{"filter":"datum.p=='t3'"}],"mark":{"type":"line","interpolate":"step-after","strokeWidth":0.9},"encoding":{"x":{"field":"t","type":"quantitative","title":"Time in months","scale":{"domain":[0,170],"nice":false},"axis":{"values":[0,50,100,150]}},"y":{"field":"v","type":"quantitative","title":"Survival probability","scale":{"domain":[0,1]},"axis":{"values":[0,0.25,0.5,0.75,1],"format":".2f","minExtent":14,"maxExtent":14}},"color":{"field":"s","type":"nominal","scale":{"domain":["a","b","c","d"],"range":["#E8866F","#A48A9E","#9ED3DA","#2E3276"]}}}},
     {"data":{"name":"med"},"transform":[{"filter":"datum.p=='t3'"}],"mark":{"type":"rule","strokeDash":[1.5,1.5],"color":"#777","strokeWidth":0.5},"encoding":{"x":{"field":"m","type":"quantitative","title":"Time in months"},"y":{"datum":0,"type":"quantitative"},"y2":{"datum":0.5}}},
     {"data":{"name":"med"},"transform":[{"filter":"datum.p=='t3'"},{"aggregate":[{"op":"max","field":"m","as":"hm"}]}],"mark":{"type":"rule","strokeDash":[1.5,1.5],"color":"#777","strokeWidth":0.5},"encoding":{"x":{"field":"hm","type":"quantitative","title":"Time in months"},"x2":{"datum":0},"y":{"datum":0.5,"type":"quantitative"}}},
     {"data":{"name":"pv"},"transform":[{"filter":"datum.p=='t3'"}],"mark":{"type":"text","fontSize":5,"align":"left"},"encoding":{"x":{"datum":115,"type":"quantitative"},"y":{"datum":0.42,"type":"quantitative"},"text":{"field":"txt"}}}
    ]},
    {"width":70,"height":16,"data":{"name":"risk"},"transform":[{"filter":"datum.p=='t3'"}],"title":{"text":"Number at risk","fontSize":4,"fontWeight":"normal","offset":1},"mark":{"type":"text","fontSize":3.8},"encoding":{"x":{"field":"t","type":"quantitative","title":"Time in months","scale":{"domain":[0,170],"nice":false},"axis":{"values":[0,50,100,150],"labelFontSize":3.5,"titleFontSize":3.5,"tickSize":1.5,"titlePadding":0}},"y":{"field":"s","type":"nominal","title":null,"scale":{"domain":["a","b","c","d"]},"axis":{"labelExpr":"'—'","ticks":false,"labelFontSize":5,"minExtent":22,"maxExtent":22}},"text":{"field":"n"}}}
   ]},
   {"spacing":1,"vconcat":[
    {"width":70,"height":38,"title":{"text":"IDHwildtype"},"layer":[
     {"data":{"name":"km"},"transform":[{"filter":"datum.p=='t4'"}],"mark":{"type":"line","interpolate":"step-after","strokeWidth":0.9},"encoding":{"x":{"field":"t","type":"quantitative","title":"Time in months","scale":{"domain":[0,220],"nice":false},"axis":{"values":[0,50,100,150,200]}},"y":{"field":"v","type":"quantitative","title":"Survival probability","scale":{"domain":[0,1]},"axis":{"values":[0,0.25,0.5,0.75,1],"format":".2f","minExtent":14,"maxExtent":14}},"color":{"field":"s","type":"nominal","scale":{"domain":["a","b","c","d"],"range":["#E8866F","#A48A9E","#9ED3DA","#2E3276"]}}}},
     {"data":{"name":"med"},"transform":[{"filter":"datum.p=='t4'"}],"mark":{"type":"rule","strokeDash":[1.5,1.5],"color":"#777","strokeWidth":0.5},"encoding":{"x":{"field":"m","type":"quantitative","title":"Time in months"},"y":{"datum":0,"type":"quantitative"},"y2":{"datum":0.5}}},
     {"data":{"name":"med"},"transform":[{"filter":"datum.p=='t4'"},{"aggregate":[{"op":"max","field":"m","as":"hm"}]}],"mark":{"type":"rule","strokeDash":[1.5,1.5],"color":"#777","strokeWidth":0.5},"encoding":{"x":{"field":"hm","type":"quantitative","title":"Time in months"},"x2":{"datum":0},"y":{"datum":0.5,"type":"quantitative"}}},
     {"data":{"name":"pv"},"transform":[{"filter":"datum.p=='t4'"}],"mark":{"type":"text","fontSize":5,"align":"left"},"encoding":{"x":{"datum":150,"type":"quantitative"},"y":{"datum":0.42,"type":"quantitative"},"text":{"field":"txt"}}}
    ]},
    {"width":70,"height":16,"data":{"name":"risk"},"transform":[{"filter":"datum.p=='t4'"}],"title":{"text":"Number at risk","fontSize":4,"fontWeight":"normal","offset":1},"mark":{"type":"text","fontSize":3.8},"encoding":{"x":{"field":"t","type":"quantitative","title":"Time in months","scale":{"domain":[0,220],"nice":false},"axis":{"values":[0,50,100,150,200],"labelFontSize":3.5,"titleFontSize":3.5,"tickSize":1.5,"titlePadding":0}},"y":{"field":"s","type":"nominal","title":null,"scale":{"domain":["a","b","c","d"]},"axis":{"labelExpr":"'—'","ticks":false,"labelFontSize":5,"minExtent":22,"maxExtent":22}},"text":{"field":"n"}}}
   ]}
  ]},
  {"spacing":4,"hconcat":[
   {"spacing":1,"vconcat":[
    {"width":70,"height":38,"title":{"text":"CGGA"},"layer":[
     {"data":{"name":"km"},"transform":[{"filter":"datum.p=='c1'"}],"mark":{"type":"line","interpolate":"step-after","strokeWidth":0.9},"encoding":{"x":{"field":"t","type":"quantitative","title":"Time in months","scale":{"domain":[0,170],"nice":false},"axis":{"values":[0,40,80,120,160]}},"y":{"field":"v","type":"quantitative","title":"Survival probability","scale":{"domain":[0,1]},"axis":{"values":[0,0.25,0.5,0.75,1],"format":".2f","minExtent":14,"maxExtent":14}},"color":{"field":"s","type":"nominal","scale":{"domain":["a","b","c","d"],"range":["#E8866F","#A48A9E","#9ED3DA","#2E3276"]}}}},
     {"data":{"name":"med"},"transform":[{"filter":"datum.p=='c1'"}],"mark":{"type":"rule","strokeDash":[1.5,1.5],"color":"#777","strokeWidth":0.5},"encoding":{"x":{"field":"m","type":"quantitative","title":"Time in months"},"y":{"datum":0,"type":"quantitative"},"y2":{"datum":0.5}}},
     {"data":{"name":"med"},"transform":[{"filter":"datum.p=='c1'"},{"aggregate":[{"op":"max","field":"m","as":"hm"}]}],"mark":{"type":"rule","strokeDash":[1.5,1.5],"color":"#777","strokeWidth":0.5},"encoding":{"x":{"field":"hm","type":"quantitative","title":"Time in months"},"x2":{"datum":0},"y":{"datum":0.5,"type":"quantitative"}}},
     {"data":{"name":"pv"},"transform":[{"filter":"datum.p=='c1'"}],"mark":{"type":"text","fontSize":5,"align":"left"},"encoding":{"x":{"datum":100,"type":"quantitative"},"y":{"datum":0.62,"type":"quantitative"},"text":{"field":"txt"}}}
    ]},
    {"width":70,"height":16,"data":{"name":"risk"},"transform":[{"filter":"datum.p=='c1'"}],"title":{"text":"Number at risk","fontSize":4,"fontWeight":"normal","offset":1},"mark":{"type":"text","fontSize":3.8},"encoding":{"x":{"field":"t","type":"quantitative","title":"Time in months","scale":{"domain":[0,170],"nice":false},"axis":{"values":[0,40,80,120,160],"labelFontSize":3.5,"titleFontSize":3.5,"tickSize":1.5,"titlePadding":0}},"y":{"field":"s","type":"nominal","title":null,"scale":{"domain":["a","b","c","d"]},"axis":{"labelExpr":"'—'","ticks":false,"labelFontSize":5,"minExtent":22,"maxExtent":22}},"text":{"field":"n"}}}
   ]},
   {"spacing":1,"vconcat":[
    {"width":70,"height":38,"title":{"text":"IDHmutant 1p/19q co-deletion"},"layer":[
     {"data":{"name":"km"},"transform":[{"filter":"datum.p=='c2'"}],"mark":{"type":"line","interpolate":"step-after","strokeWidth":0.9},"encoding":{"x":{"field":"t","type":"quantitative","title":"Time in months","scale":{"domain":[0,170],"nice":false},"axis":{"values":[0,40,80,120,160]}},"y":{"field":"v","type":"quantitative","title":"Survival probability","scale":{"domain":[0,1]},"axis":{"values":[0,0.25,0.5,0.75,1],"format":".2f","minExtent":14,"maxExtent":14}},"color":{"field":"s","type":"nominal","scale":{"domain":["a","b","c","d"],"range":["#E8866F","#A48A9E","#9ED3DA","#2E3276"]}}}},
     {"data":{"name":"med"},"transform":[{"filter":"datum.p=='c2'"}],"mark":{"type":"rule","strokeDash":[1.5,1.5],"color":"#777","strokeWidth":0.5},"encoding":{"x":{"field":"m","type":"quantitative","title":"Time in months"},"y":{"datum":0,"type":"quantitative"},"y2":{"datum":0.5}}},
     {"data":{"name":"med"},"transform":[{"filter":"datum.p=='c2'"},{"aggregate":[{"op":"max","field":"m","as":"hm"}]}],"mark":{"type":"rule","strokeDash":[1.5,1.5],"color":"#777","strokeWidth":0.5},"encoding":{"x":{"field":"hm","type":"quantitative","title":"Time in months"},"x2":{"datum":0},"y":{"datum":0.5,"type":"quantitative"}}},
     {"data":{"name":"pv"},"transform":[{"filter":"datum.p=='c2'"}],"mark":{"type":"text","fontSize":5,"align":"left"},"encoding":{"x":{"datum":100,"type":"quantitative"},"y":{"datum":0.55,"type":"quantitative"},"text":{"field":"txt"}}}
    ]},
    {"width":70,"height":16,"data":{"name":"risk"},"transform":[{"filter":"datum.p=='c2'"}],"title":{"text":"Number at risk","fontSize":4,"fontWeight":"normal","offset":1},"mark":{"type":"text","fontSize":3.8},"encoding":{"x":{"field":"t","type":"quantitative","title":"Time in months","scale":{"domain":[0,170],"nice":false},"axis":{"values":[0,40,80,120,160],"labelFontSize":3.5,"titleFontSize":3.5,"tickSize":1.5,"titlePadding":0}},"y":{"field":"s","type":"nominal","title":null,"scale":{"domain":["a","b","c","d"]},"axis":{"labelExpr":"'—'","ticks":false,"labelFontSize":5,"minExtent":22,"maxExtent":22}},"text":{"field":"n"}}}
   ]},
   {"spacing":1,"vconcat":[
    {"width":70,"height":38,"title":{"text":"IDHmutant without 1p/19q co-deletion"},"layer":[
     {"data":{"name":"km"},"transform":[{"filter":"datum.p=='c3'"}],"mark":{"type":"line","interpolate":"step-after","strokeWidth":0.9},"encoding":{"x":{"field":"t","type":"quantitative","title":"Time in months","scale":{"domain":[0,170],"nice":false},"axis":{"values":[0,40,80,120,160]}},"y":{"field":"v","type":"quantitative","title":"Survival probability","scale":{"domain":[0,1]},"axis":{"values":[0,0.25,0.5,0.75,1],"format":".2f","minExtent":14,"maxExtent":14}},"color":{"field":"s","type":"nominal","scale":{"domain":["a","b","c","d"],"range":["#E8866F","#A48A9E","#9ED3DA","#2E3276"]}}}},
     {"data":{"name":"med"},"transform":[{"filter":"datum.p=='c3'"}],"mark":{"type":"rule","strokeDash":[1.5,1.5],"color":"#777","strokeWidth":0.5},"encoding":{"x":{"field":"m","type":"quantitative","title":"Time in months"},"y":{"datum":0,"type":"quantitative"},"y2":{"datum":0.5}}},
     {"data":{"name":"med"},"transform":[{"filter":"datum.p=='c3'"},{"aggregate":[{"op":"max","field":"m","as":"hm"}]}],"mark":{"type":"rule","strokeDash":[1.5,1.5],"color":"#777","strokeWidth":0.5},"encoding":{"x":{"field":"hm","type":"quantitative","title":"Time in months"},"x2":{"datum":0},"y":{"datum":0.5,"type":"quantitative"}}},
     {"data":{"name":"pv"},"transform":[{"filter":"datum.p=='c3'"}],"mark":{"type":"text","fontSize":5,"align":"left"},"encoding":{"x":{"datum":100,"type":"quantitative"},"y":{"datum":0.62,"type":"quantitative"},"text":{"field":"txt"}}}
    ]},
    {"width":70,"height":16,"data":{"name":"risk"},"transform":[{"filter":"datum.p=='c3'"}],"title":{"text":"Number at risk","fontSize":4,"fontWeight":"normal","offset":1},"mark":{"type":"text","fontSize":3.8},"encoding":{"x":{"field":"t","type":"quantitative","title":"Time in months","scale":{"domain":[0,170],"nice":false},"axis":{"values":[0,40,80,120,160],"labelFontSize":3.5,"titleFontSize":3.5,"tickSize":1.5,"titlePadding":0}},"y":{"field":"s","type":"nominal","title":null,"scale":{"domain":["a","b","c","d"]},"axis":{"labelExpr":"'—'","ticks":false,"labelFontSize":5,"minExtent":22,"maxExtent":22}},"text":{"field":"n"}}}
   ]},
   {"spacing":1,"vconcat":[
    {"width":70,"height":38,"title":{"text":"IDHwildtype"},"layer":[
     {"data":{"name":"km"},"transform":[{"filter":"datum.p=='c4'"}],"mark":{"type":"line","interpolate":"step-after","strokeWidth":0.9},"encoding":{"x":{"field":"t","type":"quantitative","title":"Time in months","scale":{"domain":[0,170],"nice":false},"axis":{"values":[0,40,80,120,160]}},"y":{"field":"v","type":"quantitative","title":"Survival probability","scale":{"domain":[0,1]},"axis":{"values":[0,0.25,0.5,0.75,1],"format":".2f","minExtent":14,"maxExtent":14}},"color":{"field":"s","type":"nominal","scale":{"domain":["a","b","c","d"],"range":["#E8866F","#A48A9E","#9ED3DA","#2E3276"]}}}},
     {"data":{"name":"med"},"transform":[{"filter":"datum.p=='c4'"}],"mark":{"type":"rule","strokeDash":[1.5,1.5],"color":"#777","strokeWidth":0.5},"encoding":{"x":{"field":"m","type":"quantitative","title":"Time in months"},"y":{"datum":0,"type":"quantitative"},"y2":{"datum":0.5}}},
     {"data":{"name":"med"},"transform":[{"filter":"datum.p=='c4'"},{"aggregate":[{"op":"max","field":"m","as":"hm"}]}],"mark":{"type":"rule","strokeDash":[1.5,1.5],"color":"#777","strokeWidth":0.5},"encoding":{"x":{"field":"hm","type":"quantitative","title":"Time in months"},"x2":{"datum":0},"y":{"datum":0.5,"type":"quantitative"}}},
     {"data":{"name":"pv"},"transform":[{"filter":"datum.p=='c4'"}],"mark":{"type":"text","fontSize":5,"align":"left"},"encoding":{"x":{"datum":100,"type":"quantitative"},"y":{"datum":0.62,"type":"quantitative"},"text":{"field":"txt"}}}
    ]},
    {"width":70,"height":16,"data":{"name":"risk"},"transform":[{"filter":"datum.p=='c4'"}],"title":{"text":"Number at risk","fontSize":4,"fontWeight":"normal","offset":1},"mark":{"type":"text","fontSize":3.8},"encoding":{"x":{"field":"t","type":"quantitative","title":"Time in months","scale":{"domain":[0,170],"nice":false},"axis":{"values":[0,40,80,120,160],"labelFontSize":3.5,"titleFontSize":3.5,"tickSize":1.5,"titlePadding":0}},"y":{"field":"s","type":"nominal","title":null,"scale":{"domain":["a","b","c","d"]},"axis":{"labelExpr":"'—'","ticks":false,"labelFontSize":5,"minExtent":22,"maxExtent":22}},"text":{"field":"n"}}}
   ]}
  ]}
 ]}
],"columns":2,"align":"none","spacing":6,"resolve":{"scale":{"color":"independent"}}},
{"title":{"text":"C","anchor":"start","fontSize":12,"fontWeight":"normal","offset":0},"spacing":8,"resolve":{"scale":{"color":"independent"}},"hconcat":[
 {"data":{"name":"cl"},"spacing":2,
  "facet":{"column":{"field":"g","type":"nominal","sort":["co","nc","wt"],"header":{"title":"Condition","titleOrient":"bottom","labels":false,"titleFontSize":9,"titleFontWeight":"normal","titlePadding":0}}},
  "spec":{"width":80,"height":113,"view":{"stroke":"#222","strokeWidth":1},
   "layer":[
    {"transform":[{"filter":"isValid(datum.p)"}],"mark":{"type":"rect","color":"#d9d9d9"},"encoding":{"y":{"datum":0.5,"type":"quantitative","scale":{"domain":[0.312,0.52],"nice":false,"zero":false}},"y2":{"datum":0.52}}},
    {"transform":[{"filter":"isValid(datum.p)"}],"mark":{"type":"rule","color":"#222","strokeWidth":1.2},"encoding":{"y":{"datum":0.5,"type":"quantitative"}}},
    {"transform":[{"filter":"isValid(datum.TP)"},{"fold":["TP","R1"],"as":["Condition","score"]},{"aggregate":[{"op":"min","field":"score","as":"lo"},{"op":"max","field":"score","as":"hi"}],"groupby":["Condition","g"]}],"mark":{"type":"rule","strokeWidth":0.8},"encoding":{"x":{"field":"Condition","type":"nominal","scale":{"domain":["TP","R1"],"type":"point","padding":0.6},"axis":{"title":null,"labelAngle":0,"labelFontSize":7,"tickSize":3}},"y":{"field":"lo","type":"quantitative","title":"Oligo_2_3_2_up geneset score","axis":{"values":[0.35,0.4,0.45,0.5],"format":".2f","labelFontSize":7,"titleFontSize":8,"tickSize":3,"domain":false}},"y2":{"field":"hi"},"color":{"field":"g","type":"nominal","scale":{"domain":["co","nc","wt"],"range":["#DE8F84","#93C94A","#8FC8DA"]}}}},
    {"transform":[{"filter":"isValid(datum.TP)"},{"fold":["TP","R1"],"as":["Condition","score"]}],"mark":{"type":"line","color":"#b3b3b3","strokeWidth":0.5},"encoding":{"x":{"field":"Condition","type":"nominal"},"y":{"field":"score","type":"quantitative","title":"Oligo_2_3_2_up geneset score"},"detail":{"field":"i","type":"nominal"}}},
    {"transform":[{"filter":"isValid(datum.TP)"},{"fold":["TP","R1"],"as":["Condition","score"]},{"aggregate":[{"op":"q1","field":"score","as":"q1"},{"op":"q3","field":"score","as":"q3"}],"groupby":["Condition","g"]}],"mark":{"type":"bar","filled":false,"fillOpacity":0,"size":19,"strokeWidth":1},"encoding":{"x":{"field":"Condition","type":"nominal"},"y":{"field":"q1","type":"quantitative","title":"Oligo_2_3_2_up geneset score"},"y2":{"field":"q3"},"color":{"field":"g","type":"nominal","legend":{"orient":"top","direction":"horizontal","title":null,"labelFontSize":7.5,"symbolType":"square","symbolSize":90,"symbolStrokeWidth":1.2,"columnPadding":6,"labelLimit":200,"offset":3,"labelExpr":"datum.label=='co'?['IDH mutant','1p/19q co-deletion']:datum.label=='nc'?['IDH mutant','1p/19q non co-deletion']:'IDH wildtype'"}}}},
    {"transform":[{"filter":"isValid(datum.TP)"},{"fold":["TP","R1"],"as":["Condition","score"]},{"aggregate":[{"op":"median","field":"score","as":"md"}],"groupby":["Condition","g"]}],"mark":{"type":"tick","thickness":1.2,"size":19,"opacity":1,"orient":"horizontal"},"encoding":{"x":{"field":"Condition","type":"nominal"},"y":{"field":"md","type":"quantitative","title":"Oligo_2_3_2_up geneset score"},"color":{"field":"g","type":"nominal"}}},
    {"transform":[{"filter":"isValid(datum.TP)"},{"fold":["TP","R1"],"as":["Condition","score"]}],"mark":{"type":"circle","size":6,"opacity":1},"encoding":{"x":{"field":"Condition","type":"nominal"},"y":{"field":"score","type":"quantitative","title":"Oligo_2_3_2_up geneset score"},"color":{"field":"g","type":"nominal"}}},
    {"transform":[{"filter":"isValid(datum.p)"}],"mark":{"type":"text","fontSize":6.5,"align":"left","dx":-8},"encoding":{"x":{"datum":"TP","type":"nominal"},"y":{"datum":0.493,"type":"quantitative"},"text":{"field":"p","type":"nominal"}}}
   ]}},
 {"data":{"name":"cr"},"spacing":2,
  "facet":{"column":{"field":"g","type":"nominal","sort":["me","un"],"header":{"title":"Condition","titleOrient":"bottom","labels":false,"titleFontSize":9,"titleFontWeight":"normal","titlePadding":0}}},
  "spec":{"width":122,"height":113,"view":{"stroke":"#222","strokeWidth":1},
   "layer":[
    {"transform":[{"filter":"isValid(datum.p)"}],"mark":{"type":"rect","color":"#d9d9d9"},"encoding":{"y":{"datum":0.498,"type":"quantitative","scale":{"domain":[0.337,0.516],"nice":false,"zero":false}},"y2":{"datum":0.516}}},
    {"transform":[{"filter":"isValid(datum.p)"}],"mark":{"type":"rule","color":"#222","strokeWidth":1.2},"encoding":{"y":{"datum":0.498,"type":"quantitative"}}},
    {"transform":[{"filter":"isValid(datum.TP)"},{"fold":["TP","R1"],"as":["Condition","score"]},{"aggregate":[{"op":"min","field":"score","as":"lo"},{"op":"max","field":"score","as":"hi"}],"groupby":["Condition","g"]}],"mark":{"type":"rule","strokeWidth":0.8},"encoding":{"x":{"field":"Condition","type":"nominal","scale":{"domain":["TP","R1"],"type":"point","padding":0.55},"axis":{"title":null,"labelAngle":0,"labelFontSize":7,"tickSize":3}},"y":{"field":"lo","type":"quantitative","title":"Oligo_2_3_2_up geneset score","axis":{"values":[0.35,0.4,0.45],"format":".2f","labelFontSize":7,"titleFontSize":8,"tickSize":3,"domain":false}},"y2":{"field":"hi"},"color":{"field":"g","type":"nominal","scale":{"domain":["me","un"],"range":["#2177B0","#E6C229"]}}}},
    {"transform":[{"filter":"isValid(datum.TP)"},{"fold":["TP","R1"],"as":["Condition","score"]}],"mark":{"type":"line","color":"#b3b3b3","strokeWidth":0.5},"encoding":{"x":{"field":"Condition","type":"nominal"},"y":{"field":"score","type":"quantitative","title":"Oligo_2_3_2_up geneset score"},"detail":{"field":"i","type":"nominal"}}},
    {"transform":[{"filter":"isValid(datum.TP)"},{"fold":["TP","R1"],"as":["Condition","score"]},{"aggregate":[{"op":"q1","field":"score","as":"q1"},{"op":"q3","field":"score","as":"q3"}],"groupby":["Condition","g"]}],"mark":{"type":"bar","filled":false,"fillOpacity":0,"size":26,"strokeWidth":1},"encoding":{"x":{"field":"Condition","type":"nominal"},"y":{"field":"q1","type":"quantitative","title":"Oligo_2_3_2_up geneset score"},"y2":{"field":"q3"},"color":{"field":"g","type":"nominal","legend":{"orient":"top","direction":"horizontal","title":null,"labelFontSize":7.5,"symbolType":"square","symbolSize":90,"symbolStrokeWidth":1.2,"columnPadding":14,"labelLimit":200,"offset":3,"labelExpr":"datum.label=='me'?'MGMT Methylation':'MGMT Unmethylation'"}}}},
    {"transform":[{"filter":"isValid(datum.TP)"},{"fold":["TP","R1"],"as":["Condition","score"]},{"aggregate":[{"op":"median","field":"score","as":"md"}],"groupby":["Condition","g"]}],"mark":{"type":"tick","thickness":1.5,"size":26,"opacity":1,"orient":"horizontal"},"encoding":{"x":{"field":"Condition","type":"nominal"},"y":{"field":"md","type":"quantitative","title":"Oligo_2_3_2_up geneset score"},"color":{"field":"g","type":"nominal"}}},
    {"transform":[{"filter":"isValid(datum.TP)"},{"fold":["TP","R1"],"as":["Condition","score"]}],"mark":{"type":"circle","size":7,"opacity":1},"encoding":{"x":{"field":"Condition","type":"nominal"},"y":{"field":"score","type":"quantitative","title":"Oligo_2_3_2_up geneset score"},"color":{"field":"g","type":"nominal"}}},
    {"transform":[{"filter":"isValid(datum.p)"}],"mark":{"type":"text","fontSize":6.5,"align":"left","dx":-8},"encoding":{"x":{"datum":"TP","type":"nominal"},"y":{"datum":0.492,"type":"quantitative"},"text":{"field":"p","type":"nominal"}}}
   ]}}
]}
]
}
